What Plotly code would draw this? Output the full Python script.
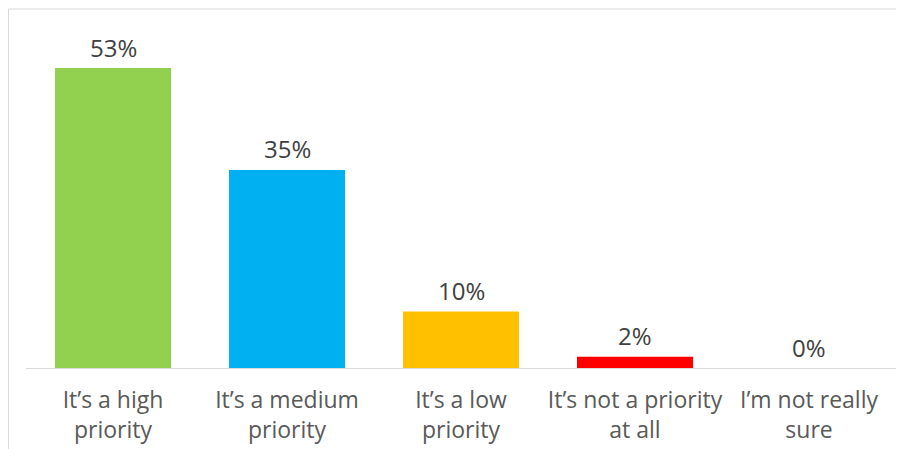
import plotly.graph_objects as go

categories = ["It’s a high<br>priority", "It’s a medium<br>priority", "It’s a low<br>priority",
              "It’s not a priority<br>at all", "I’m not really<br>sure"]
values = [53, 35, 10, 2, 0]
value_labels = ["53%", "35%", "10%", "2%", "0%"]
colors = ["#92D050", "#00B0F0", "#FFC000", "#FF0000", "#A5A5A5"]

# page body has an 8px margin, so the figure is 8px smaller each way
W, H = 896, 441
ml, mr, mt, mb = 18, 8, 2, 81
plot_w = W - ml - mr
plot_h = H - mt - mb
ymax = 63.25

fig = go.Figure()
fig.add_trace(go.Bar(
    x=list(range(len(categories))), y=values,
    marker=dict(color=colors, line=dict(width=0)),
    hoverinfo="skip", showlegend=False,
))

for i, (v, lab) in enumerate(zip(values, value_labels)):
    fig.add_annotation(x=i, y=v, text=lab, showarrow=False, xref="x", yref="y",
                       yanchor="middle", yshift=21,
                       font=dict(family="Open Sans", size=24, color="#404040"))

# light frame at top/left edges
fig.add_shape(type="rect", xref="paper", yref="paper",
              x0=(0.5 - ml) / plot_w, x1=1.2,
              y0=-0.5, y1=(plot_h + mt - 1) / plot_h,
              line=dict(color="#D9D9D9", width=1), layer="below")

fig.update_layout(
    width=W, height=H,
    margin=dict(l=ml, r=mr, t=mt, b=mb),
    paper_bgcolor="white", plot_bgcolor="white",
    bargap=0.333,
    font=dict(family="Open Sans", color="#595959"),
    xaxis=dict(
        tickmode="array", tickvals=list(range(len(categories))), ticktext=categories,
        range=[-0.5, 4.5], showline=True, linecolor="#D9D9D9", linewidth=1,
        showgrid=False, zeroline=False, ticks="", ticklabelstandoff=11,
        tickfont=dict(family="Open Sans", size=23, color="#595959"),
    ),
    yaxis=dict(range=[0, ymax], visible=False, showgrid=False, zeroline=False),
)

fig.write_html("out.html")
